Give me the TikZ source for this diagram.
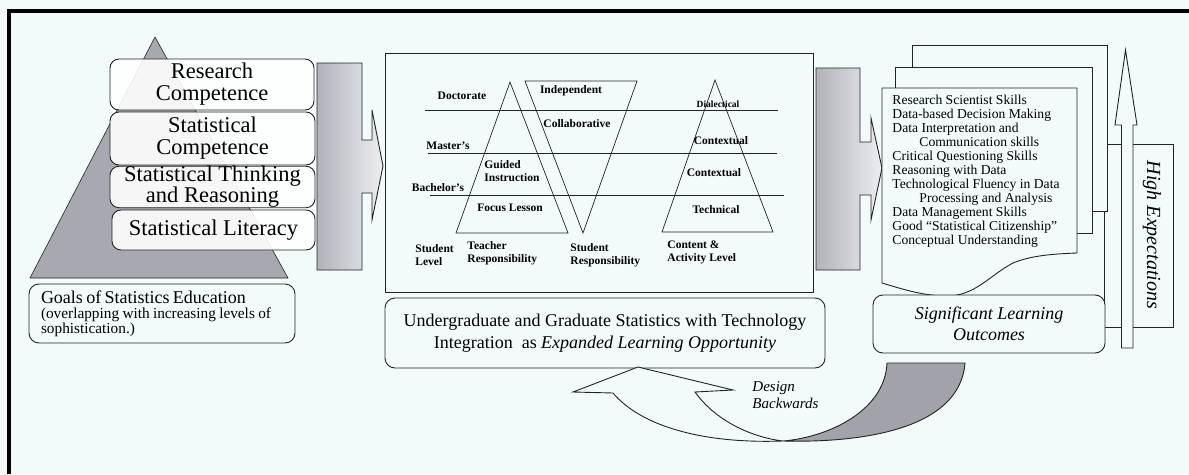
\documentclass[tikz,border=0pt]{standalone}
\usepackage{fontspec}
\setmainfont{Liberation Serif}
\definecolor{bg}{RGB}{243,250,250}
\definecolor{pyr}{RGB}{168,168,177}
\definecolor{ln}{RGB}{35,35,35}
\definecolor{rib}{RGB}{162,162,170}
\definecolor{arrl}{RGB}{178,178,186}
\definecolor{arrr}{RGB}{236,238,241}
\tikzset{
  goalbox/.style={draw=ln, rounded corners=9pt, fill=white, fill opacity=0.9, text opacity=1, align=center, inner sep=0pt},
  plainbox/.style={draw=ln, rounded corners=10pt, fill=bg, align=center, inner sep=0pt},
  lbl/.style={font=\fontsize{11.5}{13}\selectfont\bfseries, inner sep=0pt, align=left},
  page/.style={draw=ln, fill=bg},
  blockarrow/.style={draw=ln, left color=arrl, right color=arrr},
}
\begin{document}
\begin{tikzpicture}[x=1pt,y=-1pt,line width=0.9pt]
\useasboundingbox (0,0) rectangle (1189,474);
\fill[bg] (0,0) rectangle (1189,474);
% frame (top and left visible)
\draw[line width=4pt,black] (9,474) -- (9,11) -- (1189,11);

% ---------- pyramid ----------
\path[fill=pyr, draw=none] (155,37) -- (288,278) -- (30,278) -- cycle;
\draw[ln, line width=0.6pt] (155,37) -- (288,278) -- (30,278) -- cycle;
\node[goalbox, minimum width=204, minimum height=51, font=\fontsize{22.5}{22}\selectfont] (rc) at (212,84.5) {Research\\Competence};
\node[goalbox, minimum width=205, minimum height=53, font=\fontsize{22.5}{22}\selectfont] (sc) at (212.5,138.5) {Statistical\\Competence};
\node[goalbox, minimum width=205, minimum height=40, font=\fontsize{22.5}{21}\selectfont] (st) at (212.5,187) {Statistical Thinking\\and Reasoning};
\node[goalbox, minimum width=203, minimum height=40, font=\fontsize{22.5}{22}\selectfont] (sl) at (213.5,230) {Statistical Literacy};
\node[plainbox, minimum width=266, minimum height=59, text width=242, align=left] (goals) at (162,313.5)
  {{\fontsize{18}{17}\selectfont Goals of Statistics Education}\\[-1pt]
   {\fontsize{15.3}{16}\selectfont (overlapping with increasing levels of\\sophistication.)}};

% ---------- block arrow 1 ----------
\draw[blockarrow] (317,63) -- (362,63) -- (362,140) -- (372,140) -- (372,110) -- (383,166)
  -- (372,220) -- (372,193) -- (362,193) -- (362,270) -- (317,270) -- cycle;

% ---------- middle box ----------
\node[draw=ln, fill=bg, minimum width=428, minimum height=239, inner sep=0pt] (mid) at (599,172.5) {};
\begin{scope}[line width=0.7pt, ln]
\draw (425,110) -- (778,110);
\draw (428,153) -- (777,153);
\draw (430,195) -- (784,195);
\draw (510,82) -- (568,233) -- (456,233) -- cycle;
\draw (525,81) -- (637,81) -- (583,233) -- cycle;
\draw (715,80) -- (773,232) -- (662,232) -- cycle;
\end{scope}
\node[lbl] (doc) at (462,96) {Doctorate};
\node[lbl] (mas) at (448,146) {Master's};
\node[lbl] (bac) at (438,188) {Bachelor's};
\node[lbl] (ind) at (571,91) {Independent};
\node[lbl] (col) at (577,124) {Collaborative};
\node[lbl, anchor=west] (gui) at (484,171) {Guided\\Instruction};
\node[lbl] (foc) at (510,208) {Focus Lesson};
\node[lbl, font=\fontsize{9.5}{11}\selectfont\bfseries] (dia) at (718,104) {Dialectical};
\node[lbl] (con1) at (721,141) {Contextual};
\node[lbl] (con2) at (714,173) {Contextual};
\node[lbl] (tec) at (716,210) {Technical};
\node[lbl, anchor=west] (stl) at (415,255) {Student\\Level};
\node[lbl, anchor=west] (ter) at (467,253.5) {Teacher\\Responsibility};
\node[lbl, anchor=west] (str) at (570,255) {Student\\Responsibility};
\node[lbl, anchor=west] (cal) at (667,252.5) {Content \&\\Activity Level};

\node[plainbox, minimum width=440, minimum height=70, font=\fontsize{18}{22}\selectfont] (ug) at (605,333)
  {Undergraduate and Graduate Statistics with Technology\\Integration\ \ as \textit{Expanded Learning Opportunity}};

% ---------- block arrow 2 ----------
\draw[blockarrow] (816,68) -- (860,68) -- (860,142) -- (871,142) -- (871,118) -- (882,168)
  -- (871,220) -- (871,195) -- (860,195) -- (860,270) -- (816,270) -- cycle;

% ---------- high expectations ----------
\draw[ln, fill=bg] (1104,144) rectangle (1173,327);
\node[rotate=-90, font=\fontsize{20}{22}\selectfont\itshape, inner sep=0pt] (he) at (1152,235) {High Expectations};

% ---------- pages ----------
\draw[page] (912,211) -- (912,45) -- (1107,45) -- (1107,211) -- cycle;
\draw[page] (895,233) -- (895,67) -- (1092,67) -- (1092,233) -- cycle;
\draw[page] (882,283) -- (882,88) -- (1077,88) -- (1077,253)
  .. controls (1050,254) and (1030,256) .. (1013,263)
  .. controls (990,275) and (975,296) .. (947,296)
  .. controls (925,296) and (905,290) .. (882,283) -- cycle;
\node[anchor=north west, inner sep=0pt, align=left, font=\fontsize{13.6}{14}\selectfont] (skills) at (892,95)
  {Research Scientist Skills\\
   Data-based Decision Making\\
   Data Interpretation and\\
   \hspace*{27pt}Communication skills\\
   Critical Questioning Skills\\
   Reasoning with Data\\
   Technological Fluency in Data\\
   \hspace*{27pt}Processing and Analysis\\
   Data Management Skills\\
   Good “Statistical Citizenship”\\
   Conceptual Understanding};

% up arrow
\draw[ln, fill=bg] (1121.5,348) -- (1121.5,125) -- (1115,125) -- (1125.5,50) -- (1137,125)
  -- (1133,125) -- (1133,348) -- cycle;

\node[plainbox, minimum width=232, minimum height=58, font=\fontsize{18}{21}\selectfont\itshape] (slo) at (989,324)
  {Significant Learning\\Outcomes};

% ---------- design backwards curved arrow ----------
\draw[ln, fill=rib] (783,441) .. controls (830,437) and (885,410) .. (887,363) -- (965,363)
  .. controls (960,430) and (860,443) .. (783,441) -- cycle;
\draw[ln, fill=bg] (638,367) -- (733,390) -- (695,392)
  .. controls (715,420) and (750,437) .. (783,441)
  .. controls (700,444) and (640,425) .. (613,393) -- (573,392) -- cycle;
\node[anchor=west, align=left, inner sep=0pt, font=\fontsize{15}{16.5}\selectfont\itshape] (db) at (752,395) {Design\\Backwards};
\end{tikzpicture}
\end{document}
